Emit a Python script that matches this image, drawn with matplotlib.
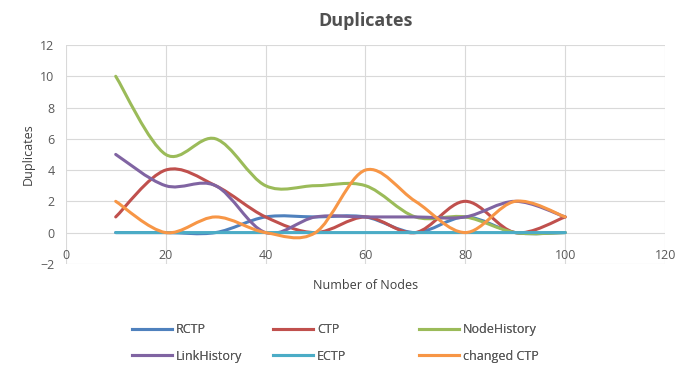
import matplotlib
matplotlib.use('Agg')
import matplotlib.pyplot as plt
from matplotlib.path import Path
from matplotlib.patches import PathPatch
from matplotlib.lines import Line2D

plt.rcParams['font.family'] = ['Open Sans', 'DejaVu Sans']

nodes = [10, 20, 30, 40, 50, 60, 70, 80, 90, 100]
rctp = [0, 0, 0, 1, 1, 1, 0, 1, 0, 0]
ctp = [1, 4, 3, 1, 0, 1, 0, 2, 0, 1]
node_history = [10, 5, 6, 3, 3, 3, 1, 1, 0, 0]
link_history = [5, 3, 3, 0, 1, 1, 1, 1, 2, 1]
ectp = [0, 0, 0, 0, 0, 0, 0, 0, 0, 0]
changed_ctp = [2, 0, 1, 0, 0, 4, 2, 0, 2, 1]

series = [
    ('RCTP', rctp, '#4F81BD'),
    ('CTP', ctp, '#C0504D'),
    ('NodeHistory', node_history, '#9BBB59'),
    ('LinkHistory', link_history, '#8064A2'),
    ('ECTP', ectp, '#4BACC6'),
    ('changed CTP', changed_ctp, '#F79646'),
]


def smooth_path(xs, ys):
    # excel-like smoothed line: cubic bezier through the points
    n = len(xs)
    verts = [(xs[0], ys[0])]
    codes = [Path.MOVETO]
    for i in range(n - 1):
        x0, y0 = (xs[i - 1], ys[i - 1]) if i > 0 else (xs[i], ys[i])
        x1, y1 = xs[i], ys[i]
        x2, y2 = xs[i + 1], ys[i + 1]
        x3, y3 = (xs[i + 2], ys[i + 2]) if i + 2 < n else (x2, y2)
        c1 = (x1 + (x2 - x0) / 6, y1 + (y2 - y0) / 6)
        c2 = (x2 - (x3 - x1) / 6, y2 - (y3 - y1) / 6)
        verts += [c1, c2, (x2, y2)]
        codes += [Path.CURVE4] * 3
    return Path(verts, codes)


fig = plt.figure(figsize=(6.85, 3.69), dpi=100)
ax = fig.add_axes([0.096, 0.285, 0.875, 0.593])

handles = []
for name, vals, col in series:
    ax.add_patch(PathPatch(smooth_path(nodes, vals), facecolor='none',
                           edgecolor=col, lw=2.2, capstyle='round'))
    handles.append(Line2D([], [], color=col, lw=2.2, label=name))

ax.set_xlim(0, 120)
ax.set_ylim(-2, 12)
ax.set_xticks(range(0, 121, 20))
ax.set_yticks(range(-2, 13, 2))
ax.grid(True, color='#d9d9d9', lw=0.8)
ax.set_axisbelow(True)
# x axis crosses at y = 0 like in excel
ax.spines['bottom'].set_position(('data', 0))
for s in ax.spines.values():
    s.set_visible(False)
ax.tick_params(length=0, labelsize=9, colors='#595959')
ax.tick_params(axis='y', pad=8)
ax.tick_params(axis='x', pad=12)

ax.set_title('Duplicates', fontsize=13, color='#505050', pad=14, fontweight='bold')
ax.set_xlabel('Number of Nodes', fontsize=9, color='#404040')
ax.xaxis.set_label_coords(0.5, -0.07)
ax.xaxis.label.set_va('top')
ax.set_ylabel('Duplicates', fontsize=9, color='#404040', labelpad=4)

# three legend columns at fixed positions, like excel
col_x = [0.183, 0.390, 0.603]
for k, x in enumerate(col_x):
    hs = [handles[k], handles[k + 3]]
    leg = fig.legend(hs, [h.get_label() for h in hs], loc='lower left',
                     bbox_to_anchor=(x, 0.0), frameon=False, fontsize=9,
                     handlelength=3.2, handletextpad=0.3, labelspacing=1.1,
                     labelcolor='#595959', borderaxespad=0.3, borderpad=0.2)
    fig.add_artist(leg)

fig.savefig('out.png', dpi=100)
